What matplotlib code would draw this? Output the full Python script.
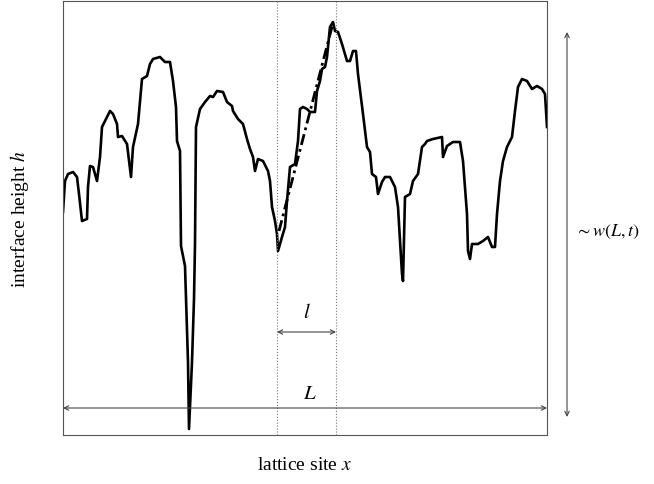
import numpy as np
import matplotlib
matplotlib.use("Agg")
import matplotlib.pyplot as plt

plt.rcParams['font.family'] = ['Liberation Serif', 'DejaVu Serif']
plt.rcParams['mathtext.fontset'] = 'stix'

# interface profile
sitios = [0, 2, 5, 10, 14, 16, 19, 24, 25, 27, 30, 34, 37, 39, 42, 47, 50, 54, 55, 59,
          64, 68, 70, 75, 79, 84, 87, 90, 97, 102, 107, 110, 113, 114, 117, 118, 122, 125,
          126, 129, 131, 132, 133, 137, 142, 147, 150, 154, 160, 164, 169, 170, 175, 180,
          184, 187, 190, 192, 195, 200, 205, 207, 209, 212, 214, 215, 219, 222, 224, 227,
          232, 235, 237, 240, 244, 247, 252, 254, 257, 259, 262, 264, 267, 270, 272, 275,
          279, 284, 287, 290, 293, 295, 300, 304, 307, 309, 313, 315, 319, 322, 327, 332,
          335, 339, 340, 342, 347, 350, 355, 359, 362, 364, 370, 379, 380, 384, 390, 397,
          400, 404, 405, 407, 409, 415, 420, 425, 429, 432, 434, 437, 440, 444, 449, 452,
          455, 459, 464, 469, 474, 479, 482, 484]
alturas = [223, 254, 261, 263, 258, 241, 214, 216, 248, 269, 268, 254, 278, 308, 314, 324,
           321, 311, 298, 299, 291, 258, 288, 311, 356, 359, 371, 376, 378, 373, 373, 354,
           328, 294, 284, 189, 169, 73, 6, 73, 136, 191, 308, 326, 333, 339, 338, 344, 343,
           333, 329, 324, 316, 311, 296, 286, 278, 264, 276, 274, 264, 254, 228, 214, 201,
           184, 198, 208, 234, 268, 271, 294, 326, 328, 326, 323, 323, 344, 354, 366, 368,
           378, 408, 413, 404, 403, 391, 374, 374, 384, 384, 361, 321, 288, 283, 261, 258,
           241, 253, 258, 258, 248, 228, 161, 154, 238, 241, 254, 261, 288, 291, 294, 296,
           298, 278, 289, 293, 293, 274, 221, 184, 176, 191, 191, 194, 198, 188, 188, 221,
           254, 274, 288, 298, 324, 348, 356, 354, 346, 349, 346, 341, 308]

# straight-line slope over the window l
ajuste_x = [216, 270]
ajuste_h = [204, 412]

ventana = [214, 273]   # ends of l
L_total = [0, 484]
w_rango = [18, 403]

fig = plt.figure(figsize=(6.54, 4.85), dpi=100)
ax = fig.add_axes([63/654, 49/485, 484/654, 434/485])

ax.plot(sitios, alturas, color='black', lw=1.9, solid_joinstyle='round')
ax.plot(ajuste_x, ajuste_h, color='black', lw=2, linestyle=(0, (4, 1.5, 1, 1.5)))

for xv in ventana:
    ax.axvline(xv, color='#777777', lw=0.8, linestyle=':')

flecha = dict(arrowstyle='<->', color='#444444', lw=0.8, shrinkA=0, shrinkB=0,
              mutation_scale=8)
ax.annotate('', xy=(ventana[0], 103), xytext=(ventana[1], 103), arrowprops=flecha)
ax.text(sum(ventana)/2, 113, r'$l$', fontsize=15, ha='center', va='bottom')

ax.annotate('', xy=(L_total[0], 27), xytext=(L_total[1], 27), arrowprops=flecha,
            annotation_clip=False)
ax.text(247, 32, r'$L$', fontsize=15, ha='center', va='bottom')

ax.annotate('', xy=(504, w_rango[0]), xytext=(504, w_rango[1]), arrowprops=flecha,
            annotation_clip=False)
ax.text(512, 204, r'$\sim w(L,t)$', fontsize=13, ha='left', va='center')

ax.set_xlim(0, 484)
ax.set_ylim(0, 434)
ax.set_xticks([])
ax.set_yticks([])
for s in ax.spines.values():
    s.set_color('#555555')
    s.set_linewidth(0.8)

fig.text(20/654, 1 - 219/485, r'interface height $h$', rotation=90, fontsize=14,
         ha='center', va='center')
fig.text(305/654, 1 - 466/485, r'lattice site $x$', fontsize=14,
         ha='center', va='center')

fig.savefig('out.png', dpi=100)
